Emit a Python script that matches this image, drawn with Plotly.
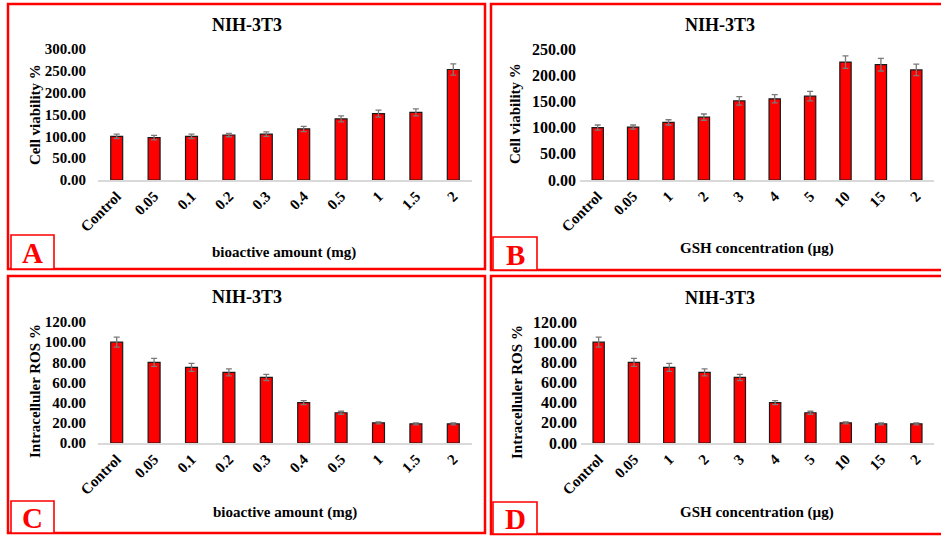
import plotly.graph_objects as go

W, H = 941, 540
FONT = "Liberation Serif"

# ---------------- data ----------------
categories_bio = ["Control", "0.05", "0.1", "0.2", "0.3", "0.4", "0.5", "1", "1.5", "2"]
categories_gsh = ["Control", "0.05", "1", "2", "3", "4", "5", "10", "15", "2"]

viability_bio = [100, 97, 100, 103, 105, 117, 140, 152, 155, 253]
viability_bio_err = [5, 5, 5, 4, 5, 6, 7, 8, 8, 13]

viability_gsh = [100, 101, 110, 120, 151, 155, 160, 225, 220, 210]
viability_gsh_err = [5, 4, 5, 6, 8, 8, 9, 12, 12, 11]

ros_bio = [100, 80, 75, 70, 65, 40, 30, 20, 19, 19]
ros_bio_err = [5, 4, 4, 3.5, 3, 2, 1.5, 1, 1, 1]

ros_gsh = [100, 80, 75, 70, 65, 40, 30, 20, 19, 19]
ros_gsh_err = [5, 4, 4, 3.5, 3, 2, 1.5, 1, 1, 1]

chart_title = "NIH-3T3"
ylabel_viab = "Cell viability %"
ylabel_ros = "Intracelluler ROS %"
xlabel_bio = "bioactive amount (mg)"
xlabel_gsh = "GSH concentration (µg)"


def px(x):
    return x / W


def py(y):
    return 1 - y / H


panels = [
    dict(cats=categories_bio, vals=viability_bio, err=viability_bio_err, ymax=300, dtick=50,
         xd=(98, 472), yd=(49, 180), box=(8, 4, 485, 269), title=(247, 25),
         ytitle=ylabel_viab, ytpos=(35, 115), xtitle=xlabel_bio, xtpos=(284, 252),
         letter="A", lbox=(11, 235, 54, 269), tfs=15, standoff=11),
    dict(cats=categories_gsh, vals=viability_gsh, err=viability_gsh_err, ymax=250, dtick=50,
         xd=(580, 934), yd=(49, 180), box=(491, 4, 950, 270), title=(720, 25),
         ytitle=ylabel_viab, ytpos=(515, 114), xtitle=xlabel_gsh, xtpos=(757, 248),
         letter="B", lbox=(493, 237, 537, 270), tfs=16, standoff=3),
    dict(cats=categories_bio, vals=ros_bio, err=ros_bio_err, ymax=120, dtick=20,
         xd=(98, 472), yd=(322, 443), box=(8, 276, 485, 533), title=(247, 297),
         ytitle=ylabel_ros, ytpos=(35, 391), xtitle=xlabel_bio, xtpos=(285, 512),
         letter="C", lbox=(11, 501, 54, 533), tfs=15, standoff=11),
    dict(cats=categories_gsh, vals=ros_gsh, err=ros_gsh_err, ymax=120, dtick=20,
         xd=(581, 934), yd=(322, 443), box=(491, 276, 950, 534), title=(720, 298),
         ytitle=ylabel_ros, ytpos=(517, 392), xtitle=xlabel_gsh, xtpos=(757, 512),
         letter="D", lbox=(493, 502, 537, 534), tfs=16, standoff=3),
]

fig = go.Figure()
shapes = []
annotations = []
layout_axes = {}

for i, p in enumerate(panels, start=1):
    sfx = "" if i == 1 else str(i)
    xs = list(range(len(p["cats"])))
    fig.add_trace(go.Bar(
        x=xs, y=p["vals"], width=0.32,
        marker=dict(color="#ff0000", line=dict(color="#1a1a1a", width=1.2)),
        error_y=dict(type="data", array=p["err"], visible=True,
                     color="#7a7a7a", thickness=1.3, width=3),
        xaxis="x" + sfx, yaxis="y" + sfx, showlegend=False,
    ))
    layout_axes["xaxis" + sfx] = dict(
        domain=[px(p["xd"][0]), px(p["xd"][1])], anchor="y" + sfx, automargin=False,
        range=[-0.5, len(xs) - 0.5], tickmode="array", tickvals=xs, ticktext=p["cats"],
        tickangle=-45, showline=True, linecolor="#d9d9d9", linewidth=1.5,
        showgrid=False, zeroline=False, ticks="",
        tickfont=dict(family=FONT, size=15, color="#000", weight="bold"),
    )
    layout_axes["yaxis" + sfx] = dict(
        domain=[py(p["yd"][1]), py(p["yd"][0])], anchor="x" + sfx, automargin=False,
        range=[0, p["ymax"]], dtick=p["dtick"], tickformat=".2f",
        showline=False, showgrid=False, zeroline=False, ticks="",
        ticklabelstandoff=p["standoff"],
        tickfont=dict(family=FONT, size=p["tfs"], color="#000", weight="bold"),
    )
    # panel border
    x0, y0, x1, y1 = p["box"]
    shapes.append(dict(type="rect", xref="paper", yref="paper",
                       x0=px(x0), x1=px(x1), y0=py(y1), y1=py(y0),
                       line=dict(color="#ff0000", width=2.5)))
    # letter box
    lx0, ly0, lx1, ly1 = p["lbox"]
    shapes.append(dict(type="rect", xref="paper", yref="paper",
                       x0=px(lx0), x1=px(lx1), y0=py(ly1), y1=py(ly0),
                       fillcolor="white", line=dict(color="#ff0000", width=1.6)))
    annotations.append(dict(text=p["letter"], xref="paper", yref="paper",
                            x=px((lx0 + lx1) / 2), y=py((ly0 + ly1) / 2 + 1),
                            showarrow=False, xanchor="center", yanchor="middle",
                            font=dict(family=FONT, size=29, color="#ff0000", weight="bold")))
    annotations.append(dict(text=chart_title, xref="paper", yref="paper",
                            x=px(p["title"][0]), y=py(p["title"][1]),
                            showarrow=False, xanchor="center", yanchor="middle",
                            font=dict(family=FONT, size=18, color="#000", weight="bold")))
    annotations.append(dict(text=p["ytitle"], xref="paper", yref="paper",
                            x=px(p["ytpos"][0]), y=py(p["ytpos"][1]), textangle=-90,
                            showarrow=False, xanchor="center", yanchor="middle",
                            font=dict(family=FONT, size=15, color="#000", weight="bold")))
    annotations.append(dict(text=p["xtitle"], xref="paper", yref="paper",
                            x=px(p["xtpos"][0]), y=py(p["xtpos"][1]),
                            showarrow=False, xanchor="center", yanchor="middle",
                            font=dict(family=FONT, size=15, color="#000", weight="bold")))

fig.update_layout(
    width=W, height=H, margin=dict(l=0, r=0, t=0, b=0, pad=0, autoexpand=False),
    paper_bgcolor="white", plot_bgcolor="white",
    shapes=shapes, annotations=annotations, **layout_axes,
)

fig.write_html("out.html")
